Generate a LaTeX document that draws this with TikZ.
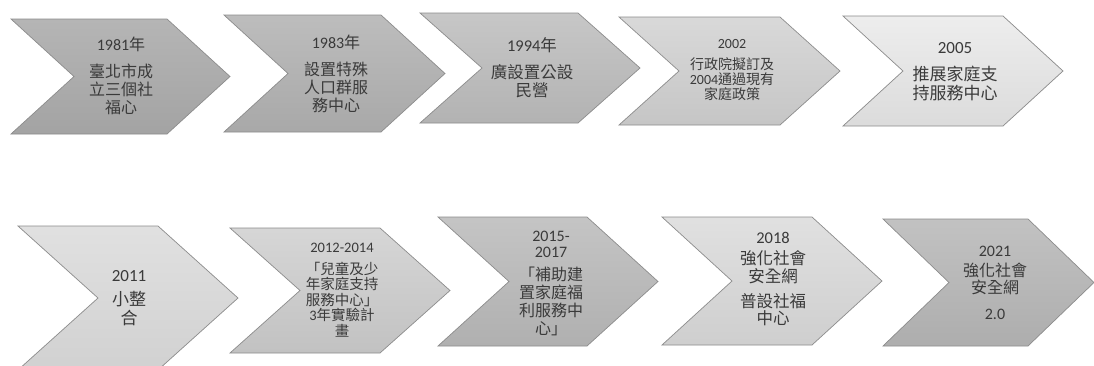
\documentclass[tikz,border=0pt]{standalone}
\usepackage{fontspec}
\setmainfont{Noto Sans CJK TC}
\newfontfamily\lat{Carlito}
\definecolor{edgec}{HTML}{8C8C8C}
\definecolor{txtc}{HTML}{3A3A3A}
\tikzset{
  chevron/.style={draw=edgec, line width=0.7bp},
  lbl/.style={align=center, text=txtc, inner sep=0pt},
}
% \chev{x1}{y1}{x2}{y2}{depth}{top colour}{bottom colour}
\newcommand\chev[7]{%
  \path[chevron, top color=#6, bottom color=#7]
    (#1,#2) -- (#3-#5,#2) -- (#3,{(#2+#4)/2}) -- (#3-#5,#4) -- (#1,#4)
    -- (#1+#5,{(#2+#4)/2}) -- cycle;}
\begin{document}
\begin{tikzpicture}[x=1bp,y=-1bp]
\useasboundingbox (0,0) rectangle (1094,365);
\clip (0,0) rectangle (1094,365);
\fill[white] (0,0) rectangle (1094,365);
% row 1
\chev{11}{19}{230}{134}{63}{gray!58}{gray!72}
\chev{224}{15}{445}{132}{64}{gray!52}{gray!68}
\chev{420}{13}{640}{123}{62}{gray!44}{gray!60}
\chev{619}{17}{840}{125}{60}{gray!30}{gray!45}
\chev{843}{16}{1063}{126}{60}{gray!14}{gray!28}
% row 2
\chev{18}{226}{238}{370}{80}{gray!24}{gray!36}
\chev{230}{228}{450}{353}{70}{gray!32}{gray!48}
\chev{438}{217}{658}{346}{71}{gray!46}{gray!62}
\chev{662}{217}{882}{345}{70}{gray!24}{gray!38}
\chev{883}{219}{1094}{346}{66}{gray!48}{gray!64}
% texts
\node[lbl, font=\fontsize{16bp}{18bp}\selectfont] (t1) at (121,76)
  {{\lat 1981}年\\[9bp]臺北市成\\立三個社\\福心};
\node[lbl, font=\fontsize{16bp}{18bp}\selectfont] (t2) at (336,74)
  {{\lat 1983}年\\[9bp]設置特殊\\人口群服\\務中心};
\node[lbl, font=\fontsize{16.5bp}{18bp}\selectfont] (t3) at (532,67.5)
  {{\lat 1994}年\\[9bp]廣設置公設\\民營};
\node[lbl, font=\fontsize{14bp}{15bp}\selectfont] (t4) at (732,70.5)
  {{\lat 2002}\\[6bp]行政院擬訂及\\{\lat 2004}通過現有\\家庭政策};
\node[lbl, font=\fontsize{17bp}{19bp}\selectfont] (t5) at (955,71.5)
  {{\lat 2005}\\[8bp]推展家庭支\\持服務中心};
\node[lbl, font=\fontsize{17bp}{19bp}\selectfont] (t6) at (129,298.5)
  {{\lat 2011}\\[5bp]小整\\合};
\node[lbl, font=\fontsize{14.5bp}{15.5bp}\selectfont] (t7) at (342,290)
  {{\lat 2012-2014}\\[6.5bp]「兒童及少\\年家庭支持\\服務中心」\\{\lat 3}年實驗計\\畫};
\node[lbl, font=\fontsize{16bp}{18bp}\selectfont] (t8) at (551,283.5)
  {{\lat 2015-}\\[-2bp]{\lat 2017}\\[5bp]「補助建\\置家庭福\\利服務中\\心」};
\node[lbl, font=\fontsize{16.5bp}{17.5bp}\selectfont] (t9) at (773,279.5)
  {{\lat 2018}\\[3.5bp]強化社會\\安全網\\[7.5bp]普設社福\\中心};
\node[lbl, font=\fontsize{16bp}{17bp}\selectfont] (t10) at (995,282.5)
  {{\lat 2021}\\[3bp]強化社會\\安全網\\[9bp]{\lat 2.0}};
\end{tikzpicture}
\end{document}
